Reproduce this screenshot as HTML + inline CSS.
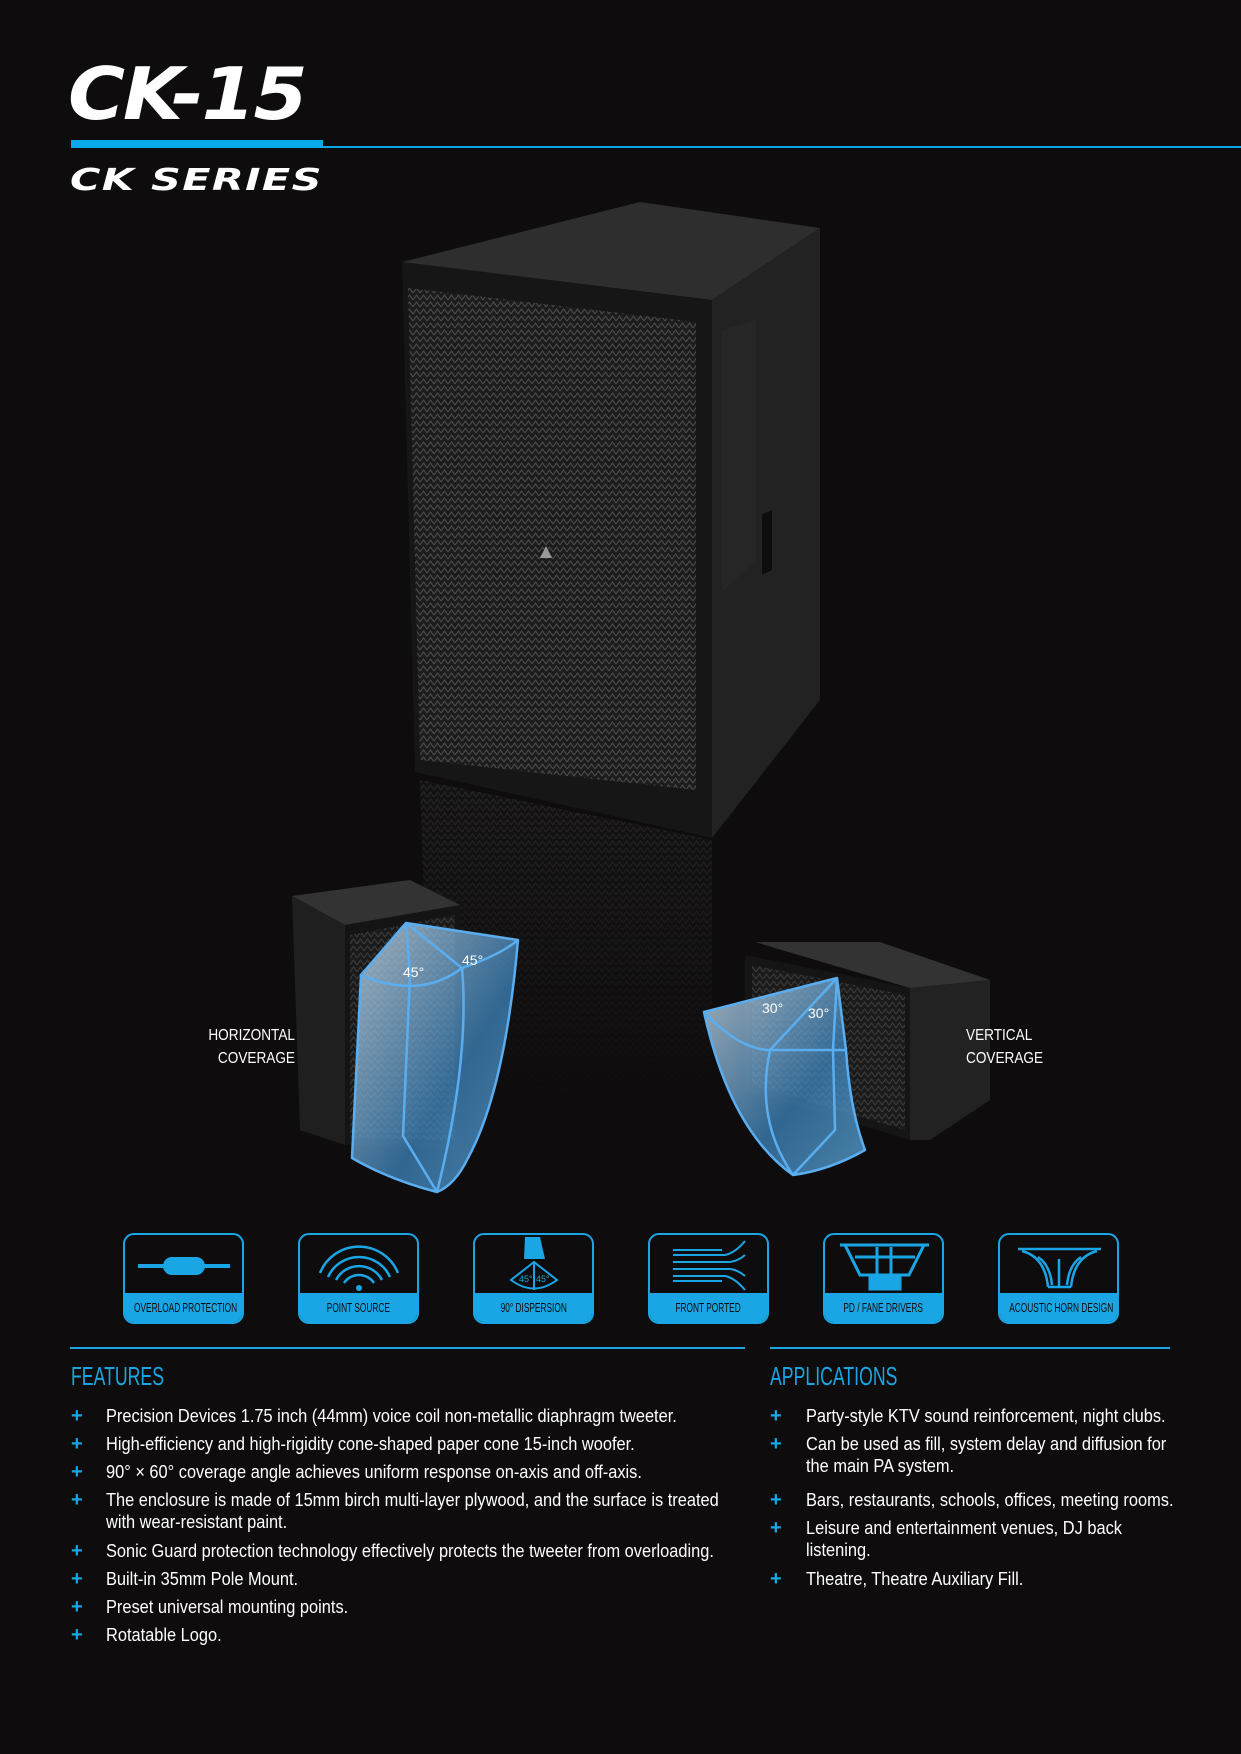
<!DOCTYPE html>
<html><head><meta charset="utf-8"><style>
body{margin:0;background:#0e0c0c;}
#p{position:relative;width:1241px;height:1754px;overflow:hidden;background:#0e0c0c;font-family:"Liberation Sans",sans-serif;color:#fff}
.t{position:absolute;white-space:nowrap}
.box{position:absolute;width:117px;height:87px;border:2px solid #1aa6e4;border-radius:11px;overflow:hidden;top:1233px}
.band{position:absolute;left:-20px;right:-20px;bottom:0;height:29px;background:#1aa6e4;color:#0e0c0c;font-size:13px;text-align:center;line-height:29px;white-space:nowrap}
.band span{display:inline-block;transform:scaleX(.64)}
.li{position:absolute;font-size:18px;line-height:22px;transform-origin:0 0;transform:scaleX(.91);width:700px;white-space:nowrap}
.pl{position:absolute;color:#1aa6e4;font-size:20px;font-weight:bold}
</style></head><body><div id="p">
<div class="t" style="left:68px;top:54px;font-size:72px;font-weight:bold;font-style:italic;letter-spacing:-2px;transform:scaleX(1.08);transform-origin:0 0;line-height:80px;font-family:'DejaVu Sans',sans-serif">CK-15</div>
<div style="position:absolute;left:71px;top:140px;width:252px;height:8px;background:#0aa8e8"></div>
<div style="position:absolute;left:323px;top:146px;width:918px;height:2px;background:#0aa8e8"></div>
<div class="t" style="left:70px;top:163px;font-size:30px;font-weight:bold;font-style:italic;transform:scaleX(1.38);transform-origin:0 0;font-family:'DejaVu Sans',sans-serif;letter-spacing:1px">CK SERIES</div>

<svg style="position:absolute;left:0;top:0" width="1241" height="1230">
<defs>
<pattern id="g" width="7" height="7" patternUnits="userSpaceOnUse"><rect width="7" height="7" fill="#1c1c1c"/><path d="M0 6 L3.5 1 L7 6" stroke="#4a4a4a" stroke-width="1.1" fill="none"/></pattern>
<linearGradient id="fade" x1="0" y1="0" x2="0" y2="1"><stop offset="0" stop-color="#0e0c0c" stop-opacity="0.2"/><stop offset="1" stop-color="#0e0c0c" stop-opacity="1"/></linearGradient>
<linearGradient id="cone" x1="0" y1="0" x2="1" y2="1"><stop offset="0" stop-color="#cfe3f3" stop-opacity=".75"/><stop offset=".6" stop-color="#3c84bd" stop-opacity=".75"/><stop offset="1" stop-color="#5aa0d0" stop-opacity=".8"/></linearGradient>
</defs>
<polygon points="420,780 712,840 712,1100 430,1080" fill="url(#g)" opacity=".55"/>
<polygon points="420,780 712,840 712,1100 430,1080" fill="url(#fade)"/>
<polygon points="402,262 640,202 820,228 712,300" fill="#2e2e2e"/>
<polygon points="712,300 820,228 820,700 712,838" fill="#222"/>
<polygon points="402,262 712,300 712,838 415,772" fill="#161616"/>
<polygon points="408,288 696,322 696,790 420,760" fill="url(#g)"/>
<polygon points="722,330 756,320 756,560 722,592" fill="#262626"/>
<rect x="762" y="520" width="10" height="60" fill="#0e0c0c" transform="skewY(-25) translate(0,350)"/>
<path d="M540 558 l6 -12 l6 12 z" fill="#999"/>
<polygon points="292,896 410,880 460,905 345,925" fill="#333"/>
<polygon points="292,896 345,925 345,1145 300,1130" fill="#1f1f1f"/>
<polygon points="345,925 460,905 460,1150 345,1145" fill="#141414"/>
<polygon points="350,935 455,915 455,1140 350,1138" fill="url(#g)" opacity=".7"/>
<polygon points="755,942 880,942 990,980 910,988" fill="#333"/>
<polygon points="745,955 910,988 910,1140 745,1090" fill="#151515"/>
<polygon points="752,965 905,995 905,1130 752,1085" fill="url(#g)" opacity=".7"/>
<polygon points="910,988 990,980 990,1100 930,1140 910,1140" fill="#222"/>
<g stroke="#5aaef0" stroke-width="2.5" fill="url(#cone)" stroke-linejoin="round">
<path d="M406,923 L518,940 Q505,1090 468,1158 Q455,1185 437,1192 Q390,1180 352,1158 L361,975 Z"/>
<path d="M361,975 Q420,1000 462,968 Q500,955 518,940" fill="none"/>
<path d="M406,923 L462,968 Q470,1060 437,1192 M406,923 L410,975 L403,1136 L437,1192" fill="none"/>
<path d="M837,978 L846,1050 Q850,1110 865,1150 Q830,1170 793,1175 Q730,1130 704,1012 Z"/>
<path d="M704,1012 Q740,1050 770,1050 L846,1050" fill="none"/>
<path d="M837,978 L770,1050 Q755,1120 793,1175 M837,978 L833,1050 L835,1130 L793,1175" fill="none"/>
</g>
</svg>
<div class="t" style="left:403px;top:964px;font-size:14px">45°</div>
<div class="t" style="left:462px;top:952px;font-size:14px">45°</div>
<div class="t" style="left:762px;top:1000px;font-size:14px">30°</div>
<div class="t" style="left:808px;top:1005px;font-size:14px">30°</div>
<div class="t" style="left:175px;top:1024px;font-size:16px;line-height:23px;text-align:right;transform:scaleX(.85);transform-origin:100% 0;width:120px">HORIZONTAL<br>COVERAGE</div>
<div class="t" style="left:966px;top:1024px;font-size:16px;line-height:23px;transform:scaleX(.85);transform-origin:0 0">VERTICAL<br>COVERAGE</div>

<div class="box" style="left:123px"><svg width="117" height="60" style="position:absolute;top:0;left:0"><rect x="13" y="29" width="92" height="4" fill="#1aa6e4"/><rect x="38" y="22" width="42" height="18" rx="9" fill="#1aa6e4"/></svg><div class="band"><span>OVERLOAD PROTECTION</span></div></div>
<div class="box" style="left:298px"><svg width="117" height="60" style="position:absolute;top:0;left:0" fill="none" stroke="#1aa6e4" stroke-width="2.5"><path d="M20 38 A42 42 0 0 1 98 38"/><path d="M28 42 A34 34 0 0 1 90 42"/><path d="M36 45 A26 26 0 0 1 82 45"/><path d="M44 48 A18 18 0 0 1 74 48"/><circle cx="59" cy="53" r="3" fill="#1aa6e4" stroke="none"/></svg><div class="band"><span>POINT SOURCE</span></div></div>
<div class="box" style="left:473px"><svg width="117" height="60" style="position:absolute;top:0;left:0"><path d="M50 2 L65 2 L70 24 L49 24 Z" fill="#1aa6e4"/><path d="M59 27 L36 45 Q59 62 82 45 Z M59 27 L59 55" fill="none" stroke="#1aa6e4" stroke-width="2"/><text x="44" y="47" font-size="9" fill="#1aa6e4" font-family="Liberation Sans">45°</text><text x="61" y="47" font-size="9" fill="#1aa6e4" font-family="Liberation Sans">45°</text></svg><div class="band"><span>90° DISPERSION</span></div></div>
<div class="box" style="left:648px"><svg width="117" height="60" style="position:absolute;top:0;left:0" fill="none" stroke="#1aa6e4" stroke-width="2"><path d="M23 15 H72"/><path d="M23 20 H75 Q85 18 95 6"/><path d="M23 27 H80 Q88 26 95 20"/><path d="M23 34 H80 Q88 35 95 41"/><path d="M23 41 H75 Q85 43 95 55"/><path d="M23 46 H72"/></svg><div class="band"><span>FRONT PORTED</span></div></div>
<div class="box" style="left:823px"><svg width="117" height="60" style="position:absolute;top:0;left:0" fill="none" stroke="#1aa6e4" stroke-width="3"><path d="M15 10 H104"/><path d="M20 10 L35 40 H84 L99 10"/><path d="M52 12 V40 M66 12 V40 M30 22 H90"/><rect x="45" y="42" width="30" height="12" fill="#1aa6e4"/></svg><div class="band"><span>PD / FANE DRIVERS</span></div></div>
<div class="box" style="left:998px"><svg width="117" height="60" style="position:absolute;top:0;left:0" fill="none" stroke="#1aa6e4" stroke-width="2.5"><path d="M18 14 H101"/><path d="M22 16 Q45 22 48 52 M97 16 Q74 22 71 52 M48 52 H71 M59 24 V52 M38 22 Q50 30 52 50 M81 22 Q69 30 67 50"/></svg><div class="band"><span>ACOUSTIC HORN DESIGN</span></div></div>

<div style="position:absolute;left:70px;top:1347px;width:675px;height:2px;background:#1aa6e4"></div>
<div style="position:absolute;left:770px;top:1347px;width:400px;height:2px;background:#1aa6e4"></div>
<div class="t" style="left:71px;top:1361px;font-size:26px;color:#1aa6e4;transform:scaleX(.68);transform-origin:0 0">FEATURES</div>
<div class="t" style="left:770px;top:1361px;font-size:26px;color:#1aa6e4;transform:scaleX(.68);transform-origin:0 0">APPLICATIONS</div>

<div class="pl" style="left:71px;top:1405px">+</div><div class="li" style="left:106px;top:1405px">Precision Devices 1.75 inch (44mm) voice coil non-metallic diaphragm tweeter.</div>
<div class="pl" style="left:71px;top:1433px">+</div><div class="li" style="left:106px;top:1433px">High-efficiency and high-rigidity cone-shaped paper cone 15-inch woofer.</div>
<div class="pl" style="left:71px;top:1461px">+</div><div class="li" style="left:106px;top:1461px">90° × 60° coverage angle achieves uniform response on-axis and off-axis.</div>
<div class="pl" style="left:71px;top:1489px">+</div><div class="li" style="left:106px;top:1489px">The enclosure is made of 15mm birch multi-layer plywood, and the surface is treated<br>with wear-resistant paint.</div>
<div class="pl" style="left:71px;top:1540px">+</div><div class="li" style="left:106px;top:1540px">Sonic Guard protection technology effectively protects the tweeter from overloading.</div>
<div class="pl" style="left:71px;top:1568px">+</div><div class="li" style="left:106px;top:1568px">Built-in 35mm Pole Mount.</div>
<div class="pl" style="left:71px;top:1596px">+</div><div class="li" style="left:106px;top:1596px">Preset universal mounting points.</div>
<div class="pl" style="left:71px;top:1624px">+</div><div class="li" style="left:106px;top:1624px">Rotatable Logo.</div>

<div class="pl" style="left:770px;top:1405px">+</div><div class="li" style="left:806px;top:1405px">Party-style KTV sound reinforcement, night clubs.</div>
<div class="pl" style="left:770px;top:1433px">+</div><div class="li" style="left:806px;top:1433px">Can be used as fill, system delay and diffusion for<br>the main PA system.</div>
<div class="pl" style="left:770px;top:1489px">+</div><div class="li" style="left:806px;top:1489px">Bars, restaurants, schools, offices, meeting rooms.</div>
<div class="pl" style="left:770px;top:1517px">+</div><div class="li" style="left:806px;top:1517px">Leisure and entertainment venues, DJ back<br>listening.</div>
<div class="pl" style="left:770px;top:1568px">+</div><div class="li" style="left:806px;top:1568px">Theatre, Theatre Auxiliary Fill.</div>
</div></body></html>
